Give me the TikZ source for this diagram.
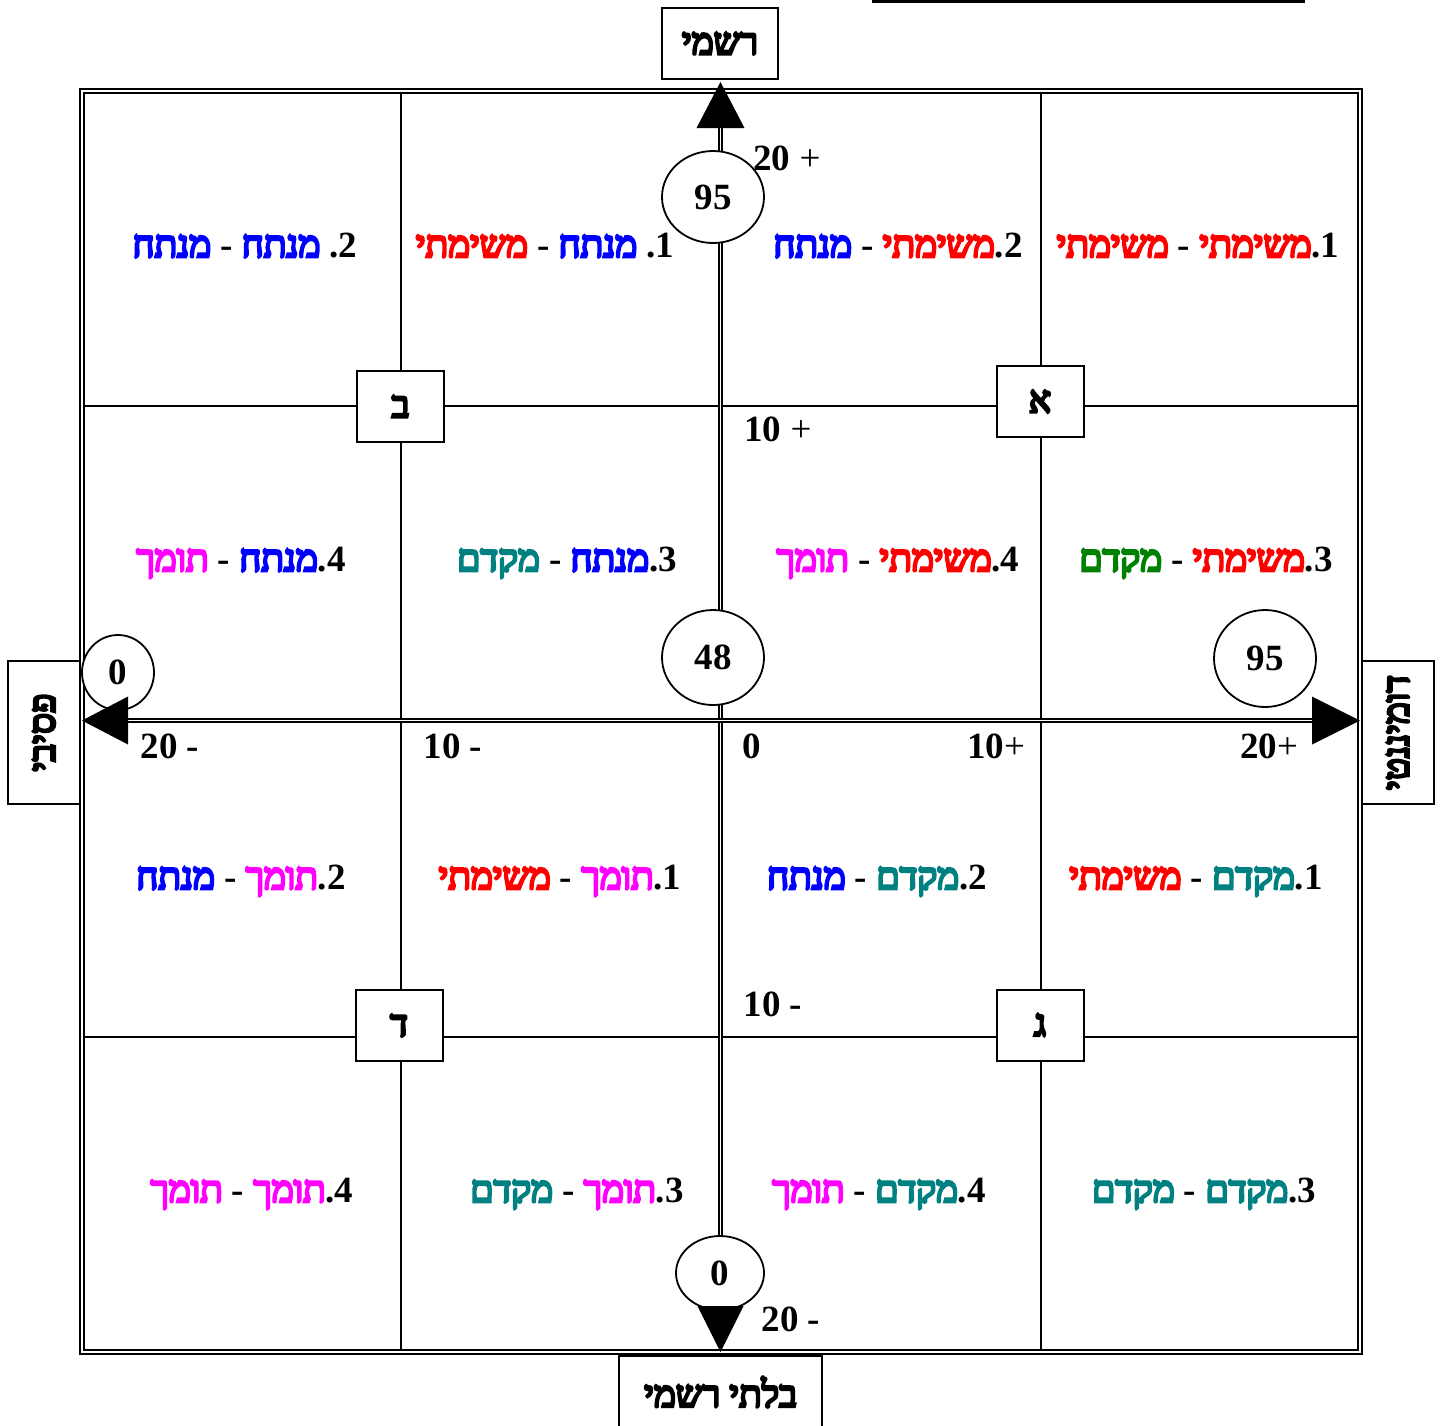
\documentclass[tikz,border=0pt]{standalone}
\usepackage{fontspec}
\setmainfont{Liberation Serif}
\newfontfamily\hebb[Script=Hebrew, FakeBold=7]{Liberation Serif}
\newcommand\hb{\hebb\mdseries}
\usetikzlibrary{shapes.geometric}
\TeXXeTstate=1
\definecolor{hblue}{RGB}{0,0,255}
\definecolor{hred}{RGB}{255,0,0}
\definecolor{hmag}{RGB}{255,0,255}
\definecolor{hteal}{RGB}{0,128,128}
\definecolor{hgreen}{RGB}{0,128,0}
% visual (left-to-right) order: second word, dash, first word, full stop, number
\newcommand\celltxt[6]{\textcolor{#5}{\hb #6}\ -\ \textcolor{#3}{\hb #4}#2.#1}
\begin{document}
\begin{tikzpicture}[x=1pt,y=-1pt,
  every node/.style={font=\fontsize{37}{44}\selectfont\bfseries, inner sep=0pt},
  gridline/.style={line width=2},
  axisline/.style={double, line width=1.4, double distance=1.6},
  letterbox/.style={draw, fill=white, line width=2, minimum width=87, minimum height=71},
  valcirc/.style={ellipse, draw, fill=white, line width=1.8},
  sidebox/.style={draw, fill=white, line width=1.6},
  celltext/.style={anchor=base},
  ticklabel/.style={anchor=base}]
\useasboundingbox (0,0) rectangle (1442,1425);
% top rule
\coordinate (rA) at (872,1.5);
\coordinate (rB) at (1305,1.5);
\draw[line width=3] (rA) -- (rB);
% frame
\coordinate (fo1) at (80,89);
\coordinate (fo2) at (1362,1354);
\coordinate (fi1) at (84,93);
\coordinate (fi2) at (1358,1350);
\draw[line width=2.6] (fo1) rectangle (fo2);
\draw[line width=2] (fi1) rectangle (fi2);
% grid
\coordinate (g1t) at (401,93);   \coordinate (g1b) at (401,1350);
\coordinate (g3t) at (1041,93);  \coordinate (g3b) at (1041,1350);
\coordinate (h1l) at (84,406);   \coordinate (h1r) at (1358,406);
\coordinate (h3l) at (84,1037);  \coordinate (h3r) at (1358,1037);
\draw[gridline] (g1t) -- (g1b);
\draw[gridline] (g3t) -- (g3b);
\draw[gridline] (h1l) -- (h1r);
\draw[gridline] (h3l) -- (h3r);
% axes
\coordinate (tT) at (720.5,82);
\coordinate (tB) at (720.5,1352);
\coordinate (tL) at (82,720.5);
\coordinate (tR) at (1360,720.5);
\draw[axisline, shorten <=30, shorten >=30] (tB) -- (tT);
\draw[axisline, shorten <=30, shorten >=30] (tL) -- (tR);
% outer label boxes
\node[sidebox, minimum width=116, minimum height=71] (formal) at (720,43.5) {\hb רשמי};
\node[sidebox, minimum width=203, minimum height=72] (informal) at (720.5,1392) {\hb\beginR בלתי רשמי\endR};
\node[sidebox, rotate=90, minimum width=143, minimum height=72] (passive) at (44,732.5) {\hb פסיבי};
\node[sidebox, rotate=90, minimum width=143, minimum height=72] (dominant) at (1398,732.5) {\hb דומיננטי};
% quadrant letter boxes
\node[letterbox] (bA) at (1040,401.5) {\hb א};
\node[letterbox] (bB) at (400.5,406.5) {\hb ב};
\node[letterbox] (bD) at (399,1025.5) {\hb ד};
\node[letterbox] (bG) at (1040,1025) {\hb ג};
% value ellipses
\node[valcirc, minimum width=102, minimum height=92] (vTop) at (713,197) {95};
\node[valcirc, minimum width=102, minimum height=95] (vMid) at (713,657.5) {48};
\node[valcirc, minimum width=102, minimum height=97] (vRight) at (1265,658.5) {95};
\node[valcirc, minimum width=72, minimum height=75] (vLeft) at (118,672.5) {0};
\node[valcirc, minimum width=88, minimum height=74] (vBot) at (720,1273) {0};
% arrow heads
\fill (tT) -- ++(-24,46) -- ++(48,0) -- cycle;
\fill (tB) -- ++(-23,-46) -- ++(46,0) -- cycle;
\fill (tL) -- ++(46,-24) -- ++(0,48) -- cycle;
\fill (tR) -- ++(-48,-24) -- ++(0,48) -- cycle;
% axis scale labels
\node[ticklabel] (s1) at (787,170) {20 {\mdseries +}};
\node[ticklabel] (s2) at (778,441) {10 {\mdseries +}};
\node[ticklabel] (s3) at (170,758) {20 -};
\node[ticklabel] (s4) at (453,758) {10 -};
\node[ticklabel] (s5) at (752,758) {0};
\node[ticklabel] (s6) at (996,758) {10{\mdseries +}};
\node[ticklabel] (s7) at (1269,758) {20{\mdseries +}};
\node[ticklabel] (s8) at (773,1016) {10 -};
\node[ticklabel] (s9) at (791,1331) {20 -};
% cell texts row 1
\node[celltext] (c11) at (245,257) {\celltxt{2}{\ }{hblue}{מנתח}{hblue}{מנתח}};
\node[celltext] (c12) at (545,257) {\celltxt{1}{\ }{hblue}{מנתח}{hred}{משימתי}};
\node[celltext] (c13) at (898,257) {\celltxt{2}{}{hred}{משימתי}{hblue}{מנתח}};
\node[celltext] (c14) at (1198,257) {\celltxt{1}{}{hred}{משימתי}{hred}{משימתי}};
% row 2
\node[celltext] (c21) at (241,571) {\celltxt{4}{}{hblue}{מנתח}{hmag}{תומך}};
\node[celltext] (c22) at (567,571) {\celltxt{3}{}{hblue}{מנתח}{hteal}{מקדם}};
\node[celltext] (c23) at (898,571) {\celltxt{4}{}{hred}{משימתי}{hmag}{תומך}};
\node[celltext] (c24) at (1206,571) {\celltxt{3}{}{hred}{משימתי}{hgreen}{מקדם}};
% row 3
\node[celltext] (c31) at (241,889) {\celltxt{2}{}{hmag}{תומך}{hblue}{מנתח}};
\node[celltext] (c32) at (560,889) {\celltxt{1}{}{hmag}{תומך}{hred}{משימתי}};
\node[celltext] (c33) at (877,889) {\celltxt{2}{}{hteal}{מקדם}{hblue}{מנתח}};
\node[celltext] (c34) at (1196,889) {\celltxt{1}{}{hteal}{מקדם}{hred}{משימתי}};
% row 4
\node[celltext] (c41) at (252,1202) {\celltxt{4}{}{hmag}{תומך}{hmag}{תומך}};
\node[celltext] (c42) at (577,1202) {\celltxt{3}{}{hmag}{תומך}{hteal}{מקדם}};
\node[celltext] (c43) at (879,1202) {\celltxt{4}{}{hteal}{מקדם}{hmag}{תומך}};
\node[celltext] (c44) at (1204,1202) {\celltxt{3}{}{hteal}{מקדם}{hteal}{מקדם}};
\end{tikzpicture}
\end{document}
